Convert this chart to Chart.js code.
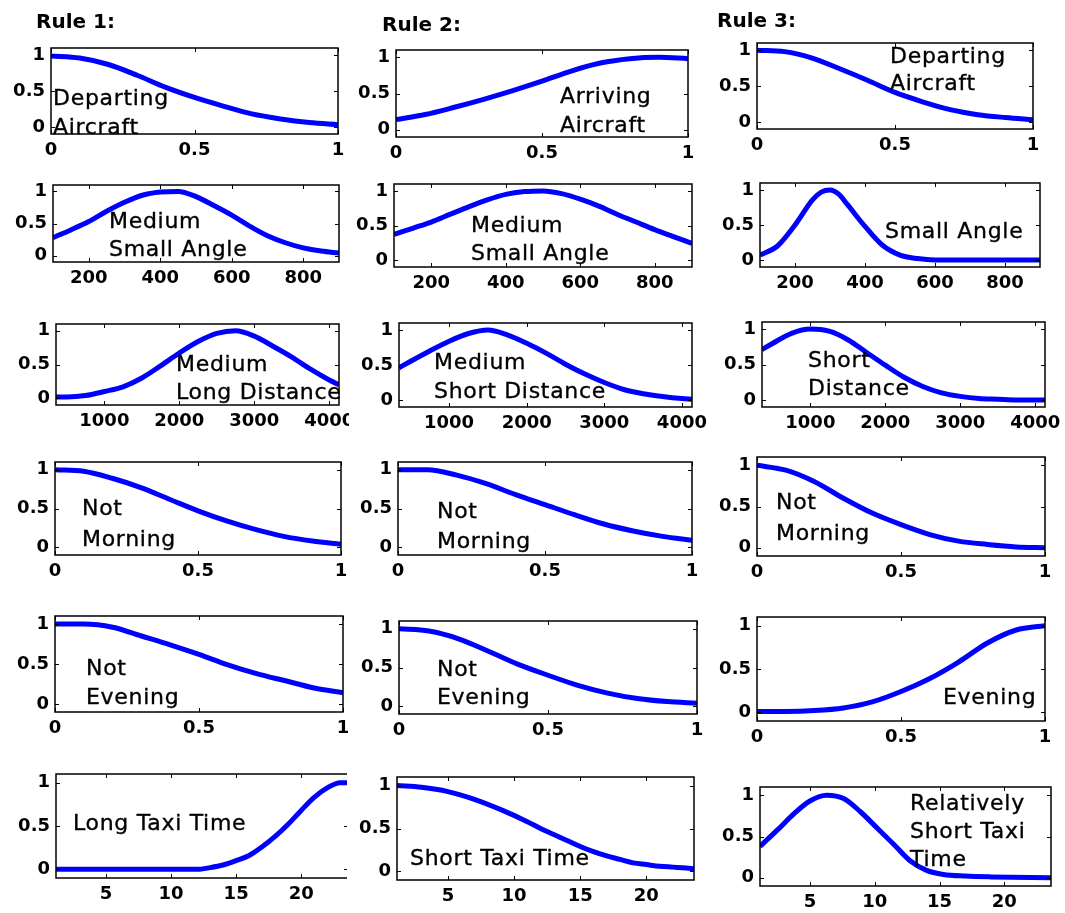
<!DOCTYPE html>
<html>
<head>
<meta charset="utf-8">
<script src="https://cdn.jsdelivr.net/npm/chart.js@4"></script>
<style>
body{margin:0;background:#fff;overflow:hidden;width:1065px;height:913px;position:relative;font-family:"DejaVu Sans",sans-serif}
canvas{position:absolute;background:#fff}
.lbl{position:absolute;font-size:22px;letter-spacing:0.7px;white-space:nowrap;color:#000;-webkit-text-stroke:0.35px #000}
.rule{position:absolute;font-size:20px;font-weight:bold;line-height:20px;white-space:nowrap;color:#000}
</style>
</head>
<body>
<script>
// x values for each kind of input
var unitX = [0,0.1,0.2,0.3,0.4,0.5,0.6,0.7,0.8,0.9,1];
var angleX = [100,150,200,250,300,350,400,450,500,550,600,650,700,750,800,850,900];
var smallAngleX = [100,150,200,250,275,300,325,350,400,450,500,550,600,700,800,900];
var distX = [355,500,750,1000,1250,1500,1750,2000,2250,2500,2750,3000,3250,3500,3750,4000,4130];
var taxiX = [1.15,3,5,7,9,11,12,13,14,15,16,17,18,19,20,21,22,23,23.6];
var relTaxiX = [1.15,2.5,3.8,5,6.3,7.6,8.9,10.2,11.5,12.7,14,15.3,17,19,23.6];

// membership values
var departY1 = [0.99,0.96,0.87,0.72,0.55,0.41,0.29,0.18,0.11,0.06,0.03];
var arriveY2 = [0.14,0.21,0.31,0.42,0.54,0.67,0.81,0.92,0.98,1.0,0.98];
var departY3 = [1.0,0.98,0.89,0.74,0.58,0.41,0.28,0.17,0.10,0.06,0.03];
var medAngleY1 = [0.28,0.40,0.53,0.69,0.83,0.94,0.99,1.0,0.92,0.78,0.63,0.46,0.31,0.20,0.12,0.07,0.04];
var medAngleY2 = [0.37,0.46,0.55,0.66,0.77,0.87,0.95,0.99,1.0,0.96,0.88,0.78,0.66,0.55,0.44,0.34,0.24];
var smallAngleY3 = [0.07,0.2,0.5,0.86,0.97,1.0,0.94,0.79,0.48,0.21,0.07,0.02,0.0,0,0,0];
var medLongY1 = [0.02,0.02,0.04,0.10,0.17,0.30,0.48,0.67,0.84,0.96,1.0,0.92,0.77,0.61,0.43,0.27,0.20];
var medShortY2 = [0.46,0.55,0.70,0.84,0.95,1.0,0.93,0.81,0.67,0.51,0.37,0.25,0.15,0.09,0.05,0.02,0.01];
var shortDistY3 = [0.71,0.80,0.94,1.0,0.97,0.85,0.67,0.49,0.32,0.19,0.10,0.05,0.02,0.01,0.0,0.0,0.0];
var notMornY1 = [1.0,0.98,0.89,0.77,0.62,0.47,0.34,0.23,0.14,0.08,0.04];
var notMornY2 = [1.0,1.0,0.93,0.82,0.68,0.55,0.42,0.30,0.21,0.14,0.09];
var notMornY3 = [1.0,0.94,0.80,0.60,0.42,0.28,0.16,0.08,0.04,0.01,0.0];
var notEveY1 = [1.0,1.0,0.96,0.85,0.74,0.62,0.49,0.38,0.29,0.20,0.14];
var notEveY2 = [1.0,0.97,0.87,0.71,0.54,0.40,0.27,0.17,0.10,0.06,0.04];
var eveY3 = [0.01,0.01,0.02,0.05,0.12,0.24,0.39,0.58,0.80,0.95,1.0];
var longTaxiY1 = [0,0,0,0,0,0,0,0.02,0.05,0.10,0.16,0.26,0.38,0.52,0.68,0.83,0.94,1.0,1.0];
var shortTaxiY2 = [1.0,0.98,0.93,0.84,0.72,0.58,0.50,0.43,0.36,0.29,0.23,0.18,0.14,0.10,0.08,0.06,0.05,0.04,0.03];
var relTaxiY3 = [0.38,0.58,0.78,0.93,1.0,0.96,0.80,0.60,0.40,0.21,0.09,0.04,0.02,0.01,0];

// tick labels
var unitTicks = [0,0.5,1];
var angleTicks = [200,400,600,800];
var distTicks = [1000,2000,3000,4000];
var taxiTicks = [5,10,15,20];
var yTicks = [0,0.5,1];

var ruleTitles = ['Rule 1:','Rule 2:','Rule 3:'];

// panels: data refs + axes box on the page [left, top, right, bottom]
var panels = [
  {x:unitX, y:departY1, lim:[0,1], ticks:unitTicks, box:[51,48,338,134]},
  {x:unitX, y:arriveY2, lim:[0,1], ticks:unitTicks, box:[396,50,688,137]},
  {x:unitX, y:departY3, lim:[0,1], ticks:unitTicks, box:[757,43,1033,129]},
  {x:angleX, y:medAngleY1, lim:[100,900], ticks:angleTicks, box:[53,185,339,262]},
  {x:angleX, y:medAngleY2, lim:[100,900], ticks:angleTicks, box:[394,184,692,267]},
  {x:smallAngleX, y:smallAngleY3, lim:[100,900], ticks:angleTicks, box:[760,183,1040,267]},
  {x:distX, y:medLongY1, lim:[355,4130], ticks:distTicks, box:[56,324,339,405]},
  {x:distX, y:medShortY2, lim:[355,4130], ticks:distTicks, box:[399,323,692,407]},
  {x:distX, y:shortDistY3, lim:[355,4130], ticks:distTicks, box:[762,322,1045,407]},
  {x:unitX, y:notMornY1, lim:[0,1], ticks:unitTicks, box:[55,462,341,555]},
  {x:unitX, y:notMornY2, lim:[0,1], ticks:unitTicks, box:[398,462,692,555]},
  {x:unitX, y:notMornY3, lim:[0,1], ticks:unitTicks, box:[757,457,1045,556]},
  {x:unitX, y:notEveY1, lim:[0,1], ticks:unitTicks, box:[55,616,343,712]},
  {x:unitX, y:notEveY2, lim:[0,1], ticks:unitTicks, box:[399,621,697,714]},
  {x:unitX, y:eveY3, lim:[0,1], ticks:unitTicks, box:[757,617,1045,721]},
  {x:taxiX, y:longTaxiY1, lim:[1.15,23.6], ticks:taxiTicks, box:[56,774,348,878]},
  {x:taxiX, y:shortTaxiY2, lim:[1.15,23.6], ticks:taxiTicks, box:[397,777,694,880]},
  {x:relTaxiX, y:relTaxiY3, lim:[1.15,23.6], ticks:taxiTicks, box:[760,787,1051,886]}
];

// text inside the axes: [left, cap top, line height, lines]
var notes = [
  [53,89,29,['Departing','Aircraft']],
  [560,87,29,['Arriving','Aircraft']],
  [890,47,27,['Departing','Aircraft']],
  [109,213,28,['Medium','Small Angle']],
  [471,217,28,['Medium','Small Angle']],
  [885,223,28,['Small Angle']],
  [176,356,28,['Medium','Long Distance']],
  [434,353,29,['Medium','Short Distance']],
  [808,352,28,['Short','Distance']],
  [82,499,31,['Not','Morning']],
  [437,503,30,['Not','Morning']],
  [776,493,31,['Not','Morning']],
  [86,659,29,['Not','Evening']],
  [437,661,28,['Not','Evening']],
  [943,689,28,['Evening']],
  [73,815,28,['Long Taxi Time']],
  [410,850,28,['Short Taxi Time']],
  [910,795,28,['Relatively','Short Taxi','Time']]
];
var rulePos = [[36,11],[382,14],[717,10]];

Chart.defaults.font.family = 'DejaVu Sans';
Chart.defaults.color = '#000';

var Y_W = 50, X_H = 35, PAD_T = 10, PAD_R = 25;
var NOTE_PX = 22;

var boxPlugin = {
  id: 'matlabBox',
  afterDatasetsDraw: function(chart) {
    var a = chart.chartArea, ctx = chart.ctx;
    var xs = chart.scales.x, ys = chart.scales.y;
    ctx.save();
    ctx.strokeStyle = '#000';
    ctx.lineWidth = 1.5;
    ctx.strokeRect(a.left, a.top, a.right - a.left, a.bottom - a.top);
    ctx.lineWidth = 1;
    ctx.beginPath();
    xs.ticks.forEach(function(t) {
      var px = Math.round(xs.getPixelForValue(t.value)) + 0.5;
      ctx.moveTo(px, a.bottom); ctx.lineTo(px, a.bottom - 4);
      ctx.moveTo(px, a.top); ctx.lineTo(px, a.top + 4);
    });
    ys.ticks.forEach(function(t) {
      var py = Math.round(ys.getPixelForValue(t.value)) + 0.5;
      ctx.moveTo(a.left, py); ctx.lineTo(a.left + 4, py);
      ctx.moveTo(a.right, py); ctx.lineTo(a.right - 4, py);
    });
    ctx.stroke();
    ctx.restore();
  }
};

var tickFont = {family:'DejaVu Sans', size:18, weight:'bold'};

panels.forEach(function(p) {
  var w = p.box[2] - p.box[0], h = p.box[3] - p.box[1];
  var c = document.createElement('canvas');
  c.width = w + Y_W + PAD_R;
  c.height = h + PAD_T + X_H;
  c.style.left = (p.box[0] - Y_W) + 'px';
  c.style.top = (p.box[1] - PAD_T) + 'px';
  document.body.appendChild(c);

  var pts = p.x.map(function(v, i) { return {x: v, y: p.y[i]}; });

  new Chart(c, {
    type: 'line',
    data: {
      datasets: [{
        data: pts,
        borderColor: '#0000ff',
        borderWidth: 5,
        pointRadius: 0,
        fill: false,
        cubicInterpolationMode: 'monotone',
        clip: 0
      }]
    },
    options: {
      responsive: false,
      animation: false,
      events: [],
      layout: {padding: {left: 0, top: PAD_T, right: PAD_R, bottom: 0}},
      plugins: {legend: {display: false}, tooltip: {enabled: false}},
      scales: {
        x: {
          type: 'linear', min: p.lim[0], max: p.lim[1],
          grid: {display: false, drawTicks: false},
          border: {display: false},
          afterBuildTicks: function(s) { s.ticks = p.ticks.map(function(v) { return {value: v}; }); },
          afterFit: function(s) { s.height = X_H; s.paddingLeft = 0; s.paddingRight = 0; },
          ticks: {font: tickFont, color: '#000', padding: 6, maxRotation: 0, autoSkip: false,
                  callback: function(v) { return String(v); }}
        },
        y: {
          type: 'linear', min: -0.1, max: 1.1,
          grid: {display: false, drawTicks: false},
          border: {display: false},
          afterBuildTicks: function(s) { s.ticks = yTicks.map(function(v) { return {value: v}; }); },
          afterFit: function(s) { s.width = Y_W; s.paddingTop = 0; s.paddingBottom = 0; },
          ticks: {font: tickFont, color: '#000', padding: 6,
                  callback: function(v) { return String(v); }}
        }
      }
    },
    plugins: [boxPlugin]
  });
});

// annotations
notes.forEach(function(n) {
  var d = document.createElement('div');
  d.className = 'lbl';
  var off = (n[2] - NOTE_PX * 1.164) / 2 + NOTE_PX * (0.928 - 0.729);
  d.style.left = n[0] + 'px';
  d.style.top = (n[1] - off) + 'px';
  d.style.lineHeight = n[2] + 'px';
  d.innerHTML = n[3].join('<br>');
  document.body.appendChild(d);
});

ruleTitles.forEach(function(t, i) {
  var d = document.createElement('div');
  d.className = 'rule';
  d.style.left = rulePos[i][0] + 'px';
  d.style.top = rulePos[i][1] + 'px';
  d.textContent = t;
  document.body.appendChild(d);
});
</script>
</body>
</html>
